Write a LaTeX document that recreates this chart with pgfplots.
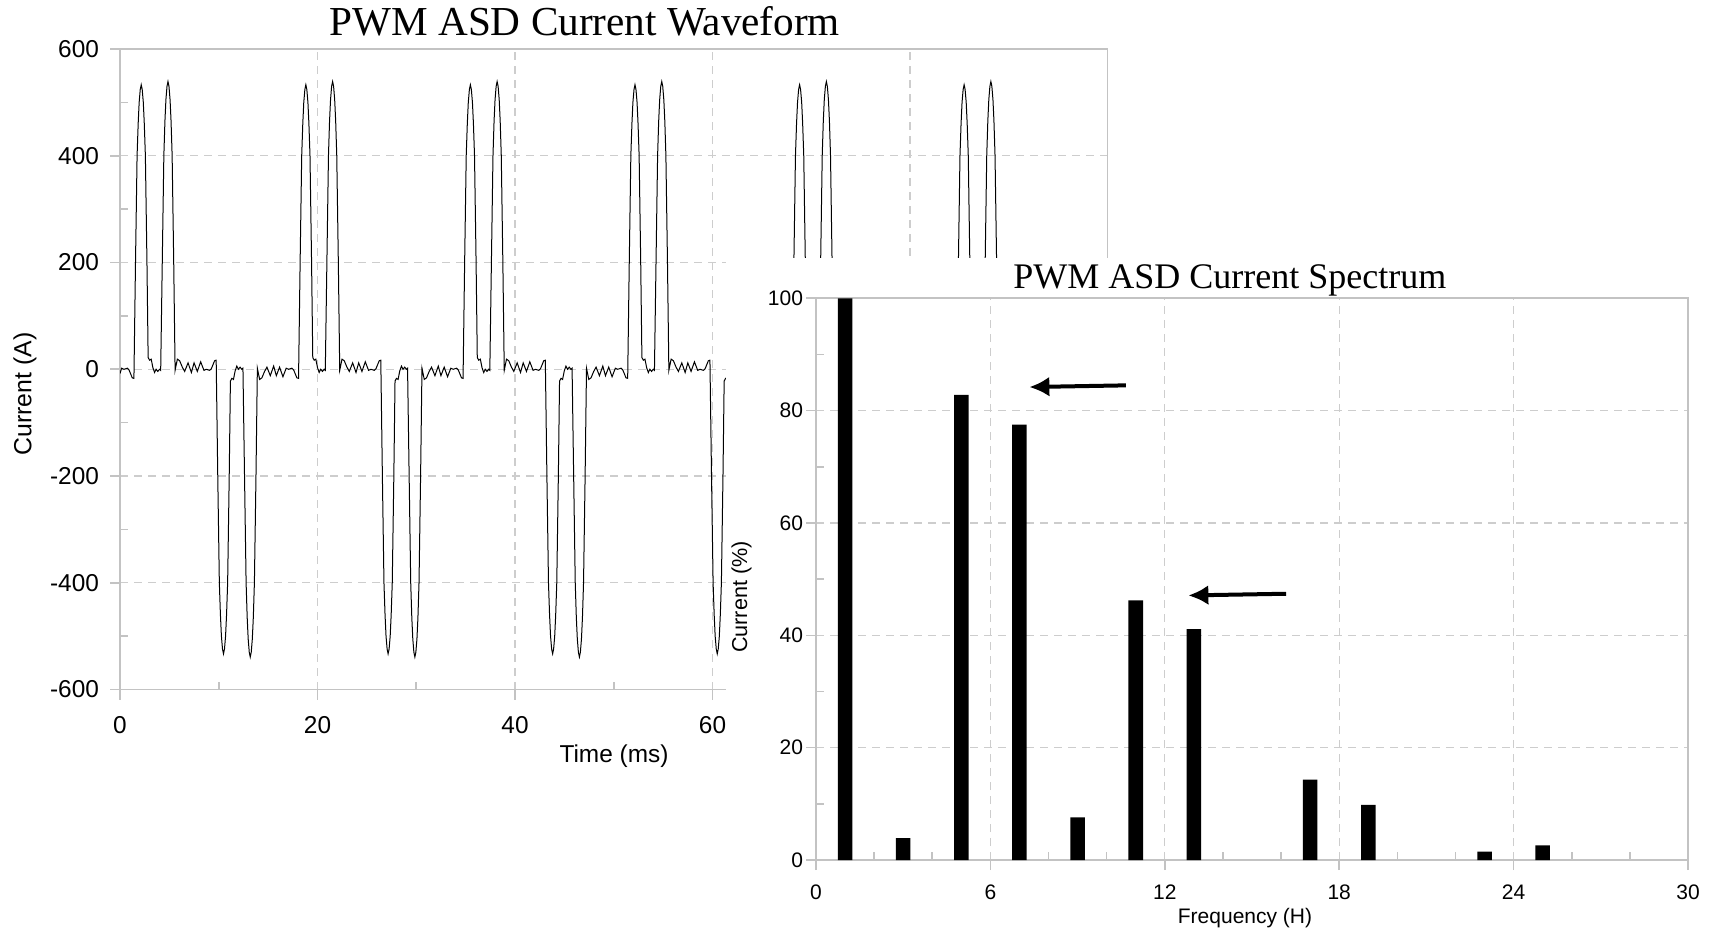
\documentclass[border=0pt]{standalone}
\usepackage{fontspec}
\setmainfont{Liberation Sans}
\newfontfamily\titlefont{Liberation Serif}
\usepackage{pgfplots}
\pgfplotsset{compat=1.18}
\usetikzlibrary{arrows.meta}
\definecolor{gridc}{RGB}{205,205,205}
\definecolor{axc}{RGB}{195,195,195}
\begin{document}
\begin{tikzpicture}
\useasboundingbox (0,0) rectangle (855.5pt,465.5pt);
\pgfplotsset{
  excelstyle/.style={
    scale only axis,
    xtick pos=bottom, ytick pos=left,
    tick align=outside, major tick length=5pt,
    grid=major,
    major grid style={dash pattern=on 4pt off 3pt, color=gridc, line width=0.6pt},
    axis line style={color=axc, line width=0.8pt},
    tick style={color=axc, line width=0.8pt},
    /pgf/number format/assume math mode=true,
    clip=true,
  }
}
% ---------------- Waveform ----------------
\begin{axis}[excelstyle,
  at={(60pt,120.7pt)}, anchor=south west,
  width=493.75pt, height=320.3pt,
  xmin=0, xmax=100, ymin=-600, ymax=600,
  xtick={0,20,40,60,80,100}, ytick={-600,-400,-200,0,200,400,600},
  extra x ticks={10,30,50,70,90}, extra x tick labels={},
  extra x tick style={grid=none, tick align=inside, major tick length=4pt},
  extra y ticks={-500,-300,-100,100,300,500}, extra y tick labels={},
  extra y tick style={grid=none, tick align=inside, major tick length=4pt},
  ticklabel style={font=\fontsize{12.2}{14}\selectfont},
  xticklabel style={yshift=-5pt},
  yticklabel style={xshift=-2pt},
]
\addplot[black, line width=0.5pt] table {
t I
0.00 -8
0.16 2
0.40 0
0.74 2
0.91 -1
1.24 -16
1.41 -17
1.57 200
1.73 400
1.84 460
1.94 500
2.05 524
2.15 533
2.25 524
2.36 500
2.46 460
2.57 400
2.73 200
2.85 22
3.00 17
3.16 19
3.33 3
3.50 -6
3.66 0
3.83 -4
4.00 0
4.12 -2
4.28 200
4.44 400
4.55 465
4.65 505
4.76 530
4.86 539
4.96 530
5.07 505
5.17 465
5.28 400
5.44 200
5.58 -2
5.81 19
6.04 16
6.31 4
6.55 -4
6.89 12
7.23 -6
7.50 12
7.83 -4
8.17 14
8.50 -2
8.74 0
9.08 -2
9.25 1
9.58 16
9.74 17
9.90 -200
10.06 -400
10.17 -460
10.27 -500
10.38 -524
10.48 -533
10.58 -524
10.69 -500
10.79 -460
10.90 -400
11.06 -200
11.18 -22
11.33 -17
11.49 -19
11.66 -3
11.83 6
11.99 0
12.16 4
12.33 0
12.45 2
12.61 -200
12.77 -400
12.88 -465
12.98 -505
13.09 -530
13.19 -539
13.29 -530
13.40 -505
13.50 -465
13.61 -400
13.77 -200
13.91 2
14.14 -19
14.37 -16
14.64 -4
14.88 4
15.22 -12
15.56 6
15.83 -12
16.16 4
16.50 -14
16.83 2
17.07 0
17.41 2
17.58 -1
17.91 -16
18.08 -17
18.24 200
18.40 400
18.51 460
18.61 500
18.72 524
18.82 533
18.92 524
19.03 500
19.13 460
19.24 400
19.40 200
19.52 22
19.67 17
19.83 19
20.00 3
20.17 -6
20.33 0
20.50 -4
20.67 0
20.79 -2
20.95 200
21.11 400
21.22 465
21.32 505
21.43 530
21.53 539
21.63 530
21.74 505
21.84 465
21.95 400
22.11 200
22.25 -2
22.48 19
22.71 16
22.98 4
23.22 -4
23.56 12
23.90 -6
24.17 12
24.50 -4
24.84 14
25.17 -2
25.41 0
25.75 -2
25.92 1
26.25 16
26.41 17
26.57 -200
26.73 -400
26.84 -460
26.94 -500
27.05 -524
27.15 -533
27.25 -524
27.36 -500
27.46 -460
27.57 -400
27.73 -200
27.85 -22
28.00 -17
28.16 -19
28.33 -3
28.50 6
28.66 0
28.83 4
29.00 0
29.12 2
29.28 -200
29.44 -400
29.55 -465
29.65 -505
29.76 -530
29.86 -539
29.96 -530
30.07 -505
30.17 -465
30.28 -400
30.44 -200
30.58 2
30.81 -19
31.04 -16
31.31 -4
31.55 4
31.89 -12
32.23 6
32.50 -12
32.83 4
33.17 -14
33.50 2
33.74 0
34.08 2
34.25 -1
34.58 -16
34.74 -17
34.90 200
35.06 400
35.17 460
35.27 500
35.38 524
35.48 533
35.58 524
35.69 500
35.79 460
35.90 400
36.06 200
36.18 22
36.33 17
36.49 19
36.66 3
36.83 -6
36.99 0
37.16 -4
37.33 0
37.45 -2
37.61 200
37.77 400
37.88 465
37.98 505
38.09 530
38.19 539
38.29 530
38.40 505
38.50 465
38.61 400
38.77 200
38.91 -2
39.14 19
39.37 16
39.64 4
39.88 -4
40.22 12
40.56 -6
40.83 12
41.16 -4
41.50 14
41.83 -2
42.07 0
42.41 -2
42.58 1
42.91 16
43.07 17
43.23 -200
43.39 -400
43.50 -460
43.60 -500
43.71 -524
43.81 -533
43.91 -524
44.02 -500
44.12 -460
44.23 -400
44.39 -200
44.51 -22
44.66 -17
44.82 -19
44.99 -3
45.16 6
45.32 0
45.49 4
45.66 0
45.78 2
45.94 -200
46.10 -400
46.21 -465
46.31 -505
46.42 -530
46.52 -539
46.62 -530
46.73 -505
46.83 -465
46.94 -400
47.10 -200
47.24 2
47.47 -19
47.70 -16
47.97 -4
48.21 4
48.55 -12
48.89 6
49.16 -12
49.49 4
49.83 -14
50.16 2
50.40 0
50.74 2
50.91 -1
51.24 -16
51.41 -17
51.57 200
51.73 400
51.84 460
51.94 500
52.05 524
52.15 533
52.25 524
52.36 500
52.46 460
52.57 400
52.73 200
52.85 22
53.00 17
53.16 19
53.33 3
53.50 -6
53.66 0
53.83 -4
54.00 0
54.12 -2
54.28 200
54.44 400
54.55 465
54.65 505
54.76 530
54.86 539
54.96 530
55.07 505
55.17 465
55.28 400
55.44 200
55.58 -2
55.81 19
56.04 16
56.31 4
56.55 -4
56.89 12
57.23 -6
57.50 12
57.83 -4
58.17 14
58.50 -2
58.74 0
59.08 -2
59.25 1
59.58 16
59.74 17
59.90 -200
60.06 -400
60.17 -460
60.27 -500
60.38 -524
60.48 -533
60.58 -524
60.69 -500
60.79 -460
60.90 -400
61.06 -200
61.18 -22
61.33 -17
61.49 -19
68.08 -17
68.24 200
68.40 400
68.51 460
68.61 500
68.72 524
68.82 533
68.92 524
69.03 500
69.13 460
69.24 400
69.40 200
69.52 22
69.67 17
69.83 19
70.00 3
70.17 -6
70.33 0
70.50 -4
70.67 0
70.79 -2
70.95 200
71.11 400
71.22 465
71.32 505
71.43 530
71.53 539
71.63 530
71.74 505
71.84 465
71.95 400
72.11 200
72.25 -2
84.74 -17
84.90 200
85.06 400
85.17 460
85.27 500
85.38 524
85.48 533
85.58 524
85.69 500
85.79 460
85.90 400
86.06 200
86.18 22
86.33 17
86.49 19
86.66 3
86.83 -6
86.99 0
87.16 -4
87.33 0
87.45 -2
87.61 200
87.77 400
87.88 465
87.98 505
88.09 530
88.19 539
88.29 530
88.40 505
88.50 465
88.61 400
88.77 200
88.91 -2
};
\end{axis}
\node[font=\titlefont\fontsize{20.6}{24}\selectfont] at (292.4pt,454.6pt) {PWM ASD Current Waveform};
\node[rotate=90, font=\fontsize{12.4}{14}\selectfont] at (12.5pt,268.5pt) {Current (A)};
\node[font=\fontsize{12.2}{14}\selectfont] at (307pt,87.5pt) {Time (ms)};
% ---------------- white panel ----------------
\fill[white] (362.9pt,0pt) rectangle (855.5pt,336.3pt);
% ---------------- Spectrum ----------------
\begin{axis}[excelstyle,
  at={(408pt,35.5pt)}, anchor=south west,
  width=436pt, height=280.85pt,
  xmin=0, xmax=30, ymin=0, ymax=100,
  xtick={0,6,12,18,24,30}, ytick={0,20,40,60,80,100},
  extra x ticks={2,4,8,10,14,16,20,22,26,28}, extra x tick labels={},
  extra x tick style={grid=none, tick align=inside, major tick length=4pt},
  extra y ticks={10,30,50,70,90}, extra y tick labels={},
  extra y tick style={grid=none, tick align=inside, major tick length=4pt},
  ticklabel style={font=\fontsize{10.5}{12}\selectfont},
  xticklabel style={yshift=-4pt},
  yticklabel style={xshift=2pt},
]
\addplot[ybar, bar width=0.5, fill=black, draw=none] coordinates {
(1,100) (3,3.9) (5,82.8) (7,77.5) (9,7.6) (11,46.2) (13,41.1) (17,14.3) (19,9.8) (23,1.5) (25,2.6)
};
\draw[black, line width=2pt, -{Latex[length=10pt,width=10pt]}] (axis cs:10.66,84.5) -- (axis cs:7.34,84.2);
\draw[black, line width=2pt, -{Latex[length=10pt,width=10pt]}] (axis cs:16.17,47.4) -- (axis cs:12.81,47.1);
\end{axis}
\node[font=\titlefont\fontsize{18}{22}\selectfont] at (614.9pt,325.5pt) {PWM ASD Current Spectrum};
\node[rotate=90, font=\fontsize{10.8}{13}\selectfont] at (370.8pt,167pt) {Current (\%)};
\node[font=\fontsize{10.5}{13}\selectfont] at (622.5pt,6.5pt) {Frequency (H)};
\end{tikzpicture}
\end{document}
